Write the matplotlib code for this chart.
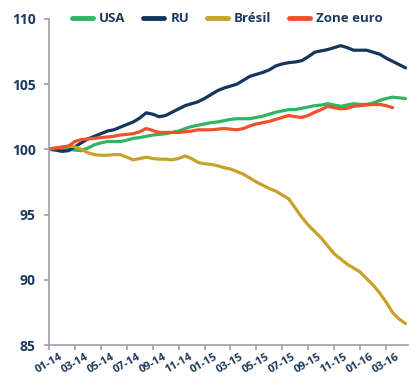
import numpy as np
import matplotlib
matplotlib.use('Agg')
import matplotlib.pyplot as plt

plt.rcParams['font.family'] = ['Open Sans', 'DejaVu Sans']

# indices base 100, un point tous les demi-mois depuis janvier 2014
usa = [100.0, 100.0, 100.0, 100.0, 99.95, 99.9, 100.1, 100.35, 100.5, 100.6,
       100.6, 100.6, 100.7, 100.85, 100.9, 101.0, 101.1, 101.15, 101.2, 101.3,
       101.4, 101.6, 101.75, 101.85, 101.95, 102.05, 102.1, 102.2, 102.3, 102.35,
       102.35, 102.35, 102.45, 102.55, 102.7, 102.85, 102.95, 103.05, 103.05, 103.15,
       103.25, 103.35, 103.4, 103.5, 103.4, 103.3, 103.4, 103.5, 103.45, 103.45,
       103.55, 103.75, 103.9, 104.0, 103.95, 103.9]
ru = [100.0, 99.95, 99.85, 99.9, 100.2, 100.5, 100.8, 101.0, 101.2, 101.4,
      101.5, 101.7, 101.9, 102.1, 102.4, 102.8, 102.7, 102.5, 102.6, 102.85,
      103.1, 103.35, 103.5, 103.65, 103.9, 104.2, 104.5, 104.7, 104.85, 105.0,
      105.3, 105.6, 105.75, 105.9, 106.1, 106.4, 106.55, 106.65, 106.7, 106.8,
      107.1, 107.45, 107.55, 107.65, 107.8, 107.95, 107.8, 107.6, 107.6, 107.6,
      107.45, 107.3, 107.0, 106.75, 106.5, 106.25]
bresil = [100.0, 100.1, 100.2, 100.25, 100.2, 100.0, 99.75, 99.6, 99.55, 99.55,
          99.6, 99.6, 99.4, 99.2, 99.3, 99.4, 99.3, 99.25, 99.25, 99.2,
          99.3, 99.5, 99.3, 99.0, 98.9, 98.85, 98.75, 98.6, 98.5, 98.3,
          98.1, 97.8, 97.5, 97.25, 97.0, 96.8, 96.5, 96.2, 95.5, 94.8,
          94.2, 93.7, 93.2, 92.6, 92.0, 91.6, 91.2, 90.9, 90.6, 90.1,
          89.6, 89.0, 88.3, 87.5, 87.0, 86.65]
zone_euro = [100.05, 100.1, 100.15, 100.25, 100.6, 100.75, 100.8, 100.85, 100.9, 100.95,
             101.0, 101.1, 101.15, 101.2, 101.35, 101.6, 101.45, 101.3, 101.3, 101.3,
             101.3, 101.35, 101.4, 101.5, 101.5, 101.5, 101.55, 101.6, 101.55, 101.5,
             101.6, 101.8, 101.95, 102.05, 102.15, 102.3, 102.45, 102.6, 102.5, 102.45,
             102.6, 102.85, 103.05, 103.3, 103.2, 103.1, 103.15, 103.3, 103.35, 103.4,
             103.45, 103.45, 103.35, 103.2]
tick_labels = ['01-14', '03-14', '05-14', '07-14', '09-14', '11-14', '01-15',
               '03-15', '05-15', '07-15', '09-15', '11-15', '01-16', '03-16']

navy = '#1b3a5e'
axis_grey = '#9aa0ae'

fig = plt.figure(figsize=(4.11, 3.78), dpi=100)
ax = fig.add_axes([0.119, 0.087, 0.874, 0.863])

series = [('USA', usa, '#2fb564'), ('RU', ru, '#15355c'),
          ('Brésil', bresil, '#c8a128'), ('Zone euro', zone_euro, '#f0502a')]
for name, vals, col in series:
    x = np.arange(len(vals)) / 2.0
    ax.plot(x, vals, color=col, lw=2.3, label=name, solid_capstyle='round')

ax.set_xlim(0, 27.7)
ax.set_ylim(85, 110)
ax.set_yticks([85, 90, 95, 100, 105, 110])
ax.set_xticks(np.arange(len(tick_labels)) * 2)
ax.set_xticklabels(tick_labels, rotation=30, ha='center')

for s in ['top', 'right']:
    ax.spines[s].set_visible(False)
for s in ['left', 'bottom']:
    ax.spines[s].set_color(axis_grey)
    ax.spines[s].set_linewidth(1.2)
ax.tick_params(colors=axis_grey, length=3.5, width=1.2)
ax.tick_params(axis='y', labelsize=10, labelcolor=navy, pad=6)
ax.tick_params(axis='x', labelsize=8, labelcolor=navy, pad=1)
for lab in ax.get_xticklabels() + ax.get_yticklabels():
    lab.set_fontweight('bold')

leg = ax.legend(loc='center left', bbox_to_anchor=(0.03, 1.0), ncol=4, frameon=False,
                handlelength=1.6, handletextpad=0.5, columnspacing=1.3,
                prop={'size': 9.5, 'weight': 'bold'})
for h in leg.get_lines():
    h.set_linewidth(3.5)
for t in leg.get_texts():
    t.set_color(navy)

fig.savefig('out.png', dpi=100)
